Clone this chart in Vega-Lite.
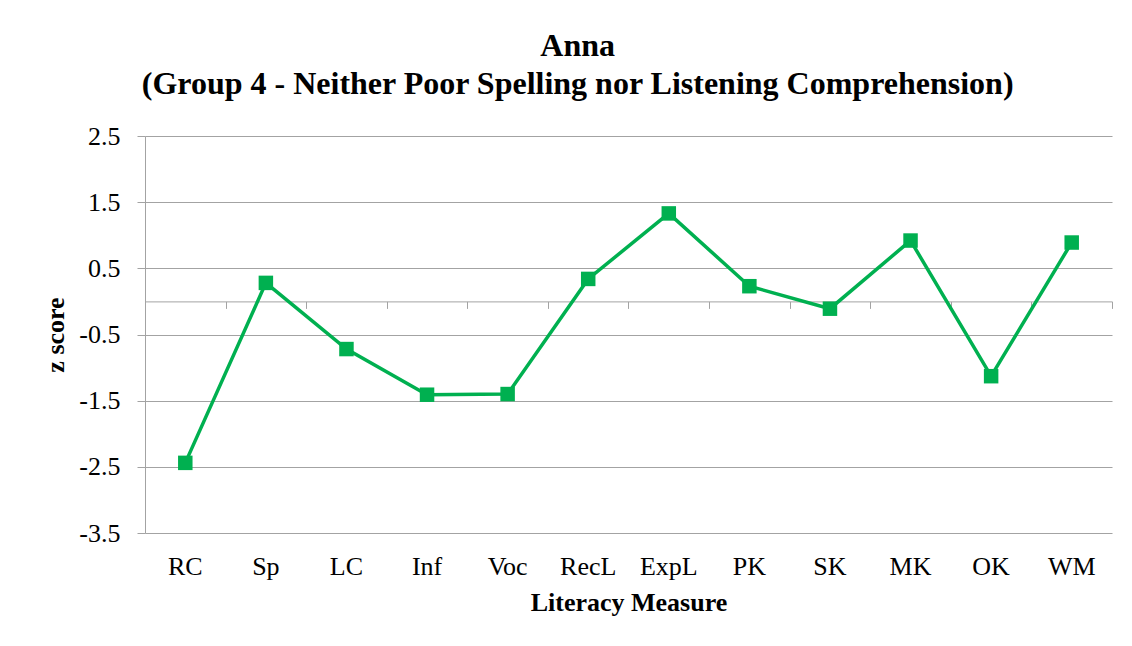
{
  "$schema": "https://vega.github.io/schema/vega-lite/v6.json",
  "width": 967,
  "height": 397,
  "autosize": {"type": "none"},
  "padding": {"left": 145, "top": 136, "right": 20, "bottom": 113},
  "background": "white",
  "title": {
    "text": ["Anna", "(Group 4 - Neither Poor Spelling nor Listening Comprehension)"],
    "font": "Liberation Serif",
    "fontSize": 32,
    "fontWeight": "bold",
    "color": "black",
    "lineHeight": 38,
    "anchor": "middle",
    "frame": "bounds",
    "offset": 22
  },
  "data": {
    "values": [
      {"measure": "RC", "z": -2.44},
      {"measure": "Sp", "z": 0.28},
      {"measure": "LC", "z": -0.72},
      {"measure": "Inf", "z": -1.41},
      {"measure": "Voc", "z": -1.40},
      {"measure": "RecL", "z": 0.34},
      {"measure": "ExpL", "z": 1.33},
      {"measure": "PK", "z": 0.23},
      {"measure": "SK", "z": -0.11},
      {"measure": "MK", "z": 0.92},
      {"measure": "OK", "z": -1.13},
      {"measure": "WM", "z": 0.89}
    ]
  },
  "encoding": {
    "y": {
      "field": "z",
      "type": "quantitative",
      "scale": {"domain": [-3.5, 2.5], "nice": false, "zero": false},
      "axis": {
        "values": [-3.5, -2.5, -1.5, -0.5, 0.5, 1.5, 2.5],
        "format": ".1f",
        "labelExpr": "replace(datum.label, '−', '-')",
        "grid": true,
        "gridColor": "#a3a3a3",
        "gridWidth": 1,
        "domain": true,
        "domainColor": "#a3a3a3",
        "ticks": true,
        "tickSize": 8,
        "tickColor": "#a3a3a3",
        "labelFont": "Liberation Serif",
        "labelFontSize": 26,
        "labelColor": "black",
        "labelPadding": 17,
        "title": "z score",
        "titleFont": "Liberation Serif",
        "titleFontSize": 26,
        "titleFontWeight": "bold",
        "titleColor": "black",
        "titlePadding": 10
      }
    }
  },
  "layer": [
    {
      "mark": {"type": "line", "color": "#00B050", "strokeWidth": 3.5},
      "encoding": {
        "x": {
          "field": "measure",
          "type": "nominal",
          "sort": null,
          "scale": {"paddingInner": 0, "paddingOuter": 0},
          "axis": {
            "orient": "bottom",
            "domain": false,
            "ticks": false,
            "grid": false,
            "labelAngle": 0,
            "labelFont": "Liberation Serif",
            "labelFontSize": 26,
            "labelColor": "black",
            "labelPadding": 20,
            "title": "Literacy Measure",
            "titleFont": "Liberation Serif",
            "titleFontSize": 26,
            "titleFontWeight": "bold",
            "titleColor": "black",
            "titlePadding": 10
          }
        }
      }
    },
    {
      "mark": {"type": "point", "shape": "square", "filled": true, "color": "#00B050", "size": 210, "opacity": 1},
      "encoding": {
        "x": {
          "field": "measure",
          "type": "nominal",
          "sort": null,
          "scale": {"paddingInner": 0, "paddingOuter": 0},
          "axis": {
            "orient": "bottom",
            "offset": -231.6,
            "labels": false,
            "title": null,
            "grid": false,
            "domain": true,
            "domainColor": "#a3a3a3",
            "ticks": true,
            "tickBand": "extent",
            "tickSize": 7,
            "tickColor": "#a3a3a3"
          }
        }
      }
    }
  ],
  "resolve": {"axis": {"x": "independent"}},
  "config": {"view": {"stroke": null}}
}
